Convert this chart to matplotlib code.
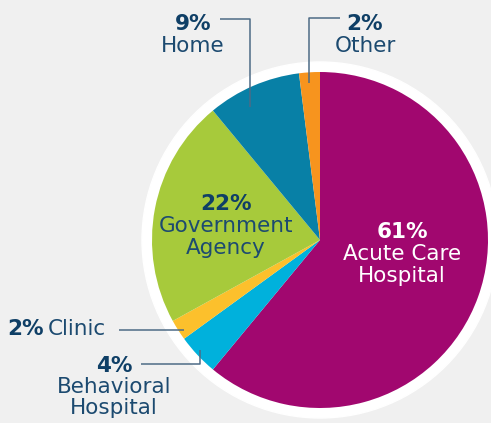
import matplotlib
matplotlib.use("Agg")
import matplotlib.pyplot as plt
from matplotlib.patches import Circle

# slices, clockwise from 12 o'clock
labels = ["Acute Care\nHospital", "Behavioral\nHospital", "Clinic",
          "Government\nAgency", "Home", "Other"]
shares = [61, 4, 2, 22, 9, 2]
colors = ["#a1076f", "#00b1dc", "#fcc02c", "#a7ca3b", "#0880a6", "#f7941e"]

W, H = 491, 423
BG = "#f0f0f0"
NAVY = "#0f3f66"
LABEL = "#1c4a70"
LEAD = "#4d6b86"

plt.rcParams["font.family"] = ["DejaVu Sans"]

fig = plt.figure(figsize=(W / 100, H / 100), dpi=100, facecolor=BG)
ax = fig.add_axes([0, 0, 1, 1])
ax.set_facecolor(BG)


def Y(y):
    # pixel row (from top) -> data y
    return H - y


cx, cy, r = 320, Y(240), 168
ax.add_patch(Circle((cx, cy), r + 10, color="white", zorder=1))
ax.pie(shares, colors=colors, startangle=90, counterclock=False,
       center=(cx, cy), radius=r, frame=True,
       wedgeprops=dict(linewidth=0, zorder=2))
ax.set_xlim(0, W)
ax.set_ylim(0, H)
ax.axis("off")

fs = 15.5


def pct_label(x, y, pct, name, color_pct=NAVY, color_name=LABEL, gap=22):
    ax.text(x, Y(y), f"{pct}%", ha="center", va="center", fontsize=fs,
            fontweight="bold", color=color_pct, zorder=5)
    for i, line in enumerate(name.split("\n")):
        ax.text(x, Y(y + gap * (i + 1)), line, ha="center", va="center",
                fontsize=fs, color=color_name, zorder=5)


pct_label(402, 232, shares[0], labels[0], "white", "white")
pct_label(226, 204, shares[3], labels[3], NAVY, LABEL)
pct_label(193, 24, shares[4], labels[4])
pct_label(365, 24, shares[5], labels[5])
pct_label(114, 366, shares[1], labels[1], gap=21)

ax.text(7, Y(329), f"{shares[2]}%", ha="left", va="center", fontsize=fs,
        fontweight="bold", color=NAVY, zorder=5)
ax.text(48, Y(329), labels[2], ha="left", va="center", fontsize=fs,
        color=LABEL, zorder=5)

# leader lines
kw = dict(color=LEAD, lw=1.1, zorder=6, solid_capstyle="butt")
ax.plot([220, 250, 250], [Y(19), Y(19), Y(107)], **kw)
ax.plot([340, 309, 309], [Y(18), Y(18), Y(83)], **kw)
ax.plot([119, 184], [Y(330), Y(330)], **kw)
ax.plot([141, 200, 200], [Y(364), Y(364), Y(350)], **kw)

fig.savefig("out.png", dpi=100, facecolor=BG)
